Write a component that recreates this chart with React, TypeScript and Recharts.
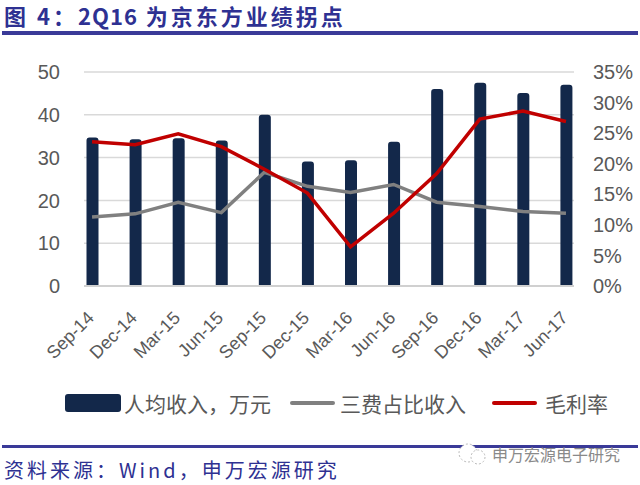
import React from "react";
import {
  ComposedChart,
  Bar,
  Line,
  XAxis,
  YAxis,
  CartesianGrid,
} from "recharts";

const quarters = [
  "Sep-14", "Dec-14", "Mar-15", "Jun-15", "Sep-15", "Dec-15",
  "Mar-16", "Jun-16", "Sep-16", "Dec-16", "Mar-17", "Jun-17",
];
// 人均收入，万元
const revenuePerHead = [34.7, 34.3, 34.5, 34.0, 40.0, 29.1, 29.4, 33.7, 46.0, 47.5, 45.1, 47.0];
// 三费占比收入 (%)
const expenseRatio = [11.3, 11.8, 13.7, 12.0, 18.6, 16.3, 15.3, 16.6, 13.7, 13.0, 12.2, 11.9];
// 毛利率 (%)
const grossMargin = [23.6, 23.1, 24.9, 22.8, 19.1, 15.2, 6.4, 11.9, 18.4, 27.3, 28.6, 26.9];

const leftTicks = [0, 10, 20, 30, 40, 50];
const rightTicks = [0, 5, 10, 15, 20, 25, 30, 35];

const data = quarters.map((q, i) => ({
  q,
  revenue: revenuePerHead[i],
  expense: expenseRatio[i],
  margin: grossMargin[i],
}));

const NAVY = "#13284A";
const GREY = "#808080";
const RED = "#C00000";
const TEXT = "#595959";
const TITLE = "#2E3192";
const RULE = "#3A3A98";
const SANS = "'Liberation Sans', Arial, sans-serif";
const CJK = "'Noto Sans CJK SC', sans-serif";

const XTick = (props: any) => {
  const { x, y, payload } = props;
  const ax = x + 3;
  const ay = y + 25;
  return (
    <text
      x={ax}
      y={ay}
      textAnchor="end"
      fill={TEXT}
      fontSize={18}
      fontFamily={SANS}
      transform={`rotate(-45, ${ax}, ${ay})`}
    >
      {payload.value}
    </text>
  );
};

export default function App() {
  return (
    <div
      style={{
        position: "absolute",
        left: 0,
        top: 0,
        width: 640,
        height: 485,
        background: "#fff",
        overflow: "hidden",
      }}
    >
      <ComposedChart
        width={640}
        height={485}
        data={data}
        margin={{ top: 72, right: 0, left: 0, bottom: 100 }}
        style={{ position: "absolute", left: 0, top: 0 }}
      >
        <CartesianGrid vertical={false} stroke="#D9D9D9" strokeWidth={1.5} yAxisId="left" />
        <XAxis
          dataKey="q"
          height={99}
          interval={0}
          padding={{ left: -13.5, right: -13.5 }}
          tick={<XTick />}
          tickLine={false}
          axisLine={{ stroke: "#D0D0D0", strokeWidth: 2 }}
        />
        <YAxis
          yAxisId="left"
          width={84}
          domain={[0, 50]}
          ticks={leftTicks}
          axisLine={false}
          tickLine={false}
          tickMargin={18}
          tick={{ fill: TEXT, fontSize: 20, fontFamily: SANS }}
        />
        <YAxis
          yAxisId="right"
          orientation="right"
          width={66}
          domain={[0, 35]}
          ticks={rightTicks}
          axisLine={false}
          tickLine={false}
          tickMargin={13}
          tickFormatter={(v: number) => `${v}%`}
          tick={{ fill: TEXT, fontSize: 20, fontFamily: SANS, textAnchor: "start" }}
        />
        <Bar
          yAxisId="left"
          dataKey="revenue"
          fill={NAVY}
          barSize={12}
          radius={[3, 3, 0, 0]}
          isAnimationActive={false}
        />
        <Line
          yAxisId="right"
          dataKey="expense"
          stroke={GREY}
          strokeWidth={3.5}
          dot={false}
          type="linear"
          isAnimationActive={false}
        />
        <Line
          yAxisId="right"
          dataKey="margin"
          stroke={RED}
          strokeWidth={3.5}
          dot={false}
          type="linear"
          isAnimationActive={false}
        />
      </ComposedChart>

      <div
        style={{
          position: "absolute",
          left: 4,
          top: 0,
          fontFamily: CJK,
          fontWeight: 700,
          fontSize: 22,
          lineHeight: "30px",
          letterSpacing: 3,
          color: TITLE,
          whiteSpace: "nowrap",
        }}
      >
        图 4：<span style={{ letterSpacing: 1 }}>2Q16</span> 为京东方业绩拐点
      </div>
      <div style={{ position: "absolute", left: 2, top: 31, width: 636, height: 4, background: RULE }} />

      <div
        style={{
          position: "absolute",
          left: 0,
          top: 388,
          width: 640,
          height: 30,
          fontFamily: CJK,
          fontSize: 21,
          color: TEXT,
        }}
      >
        <div style={{ position: "absolute", left: 65, top: 6, width: 56, height: 18, background: NAVY, borderRadius: 3 }} />
        <div style={{ position: "absolute", left: 124, top: 0, lineHeight: "30px", whiteSpace: "nowrap" }}>人均收入，万元</div>
        <div style={{ position: "absolute", left: 290, top: 13, width: 45, height: 4, background: GREY, borderRadius: 2 }} />
        <div style={{ position: "absolute", left: 340, top: 0, lineHeight: "30px", whiteSpace: "nowrap" }}>三费占比收入</div>
        <div style={{ position: "absolute", left: 492, top: 13, width: 45, height: 4, background: RED, borderRadius: 2 }} />
        <div style={{ position: "absolute", left: 545, top: 0, lineHeight: "30px", whiteSpace: "nowrap" }}>毛利率</div>
      </div>

      <div style={{ position: "absolute", left: 2, top: 445, width: 636, height: 3, background: RULE }} />
      <svg style={{ position: "absolute", left: 456, top: 441 }} width={34} height={26}>
        <circle cx={12} cy={12} r={9} fill="#fff" stroke="#bbb" strokeWidth={1} strokeDasharray="2 2" />
        <circle cx={22} cy={16} r={7} fill="#fff" stroke="#bbb" strokeWidth={1} strokeDasharray="2 2" />
      </svg>
      <div
        style={{
          position: "absolute",
          left: 492,
          top: 443,
          fontFamily: CJK,
          fontSize: 16,
          lineHeight: "22px",
          color: "#8a8a8a",
          whiteSpace: "nowrap",
        }}
      >
        申万宏源电子研究
      </div>
      <div
        style={{
          position: "absolute",
          left: 4,
          top: 457,
          fontFamily: CJK,
          fontSize: 20,
          lineHeight: "26px",
          letterSpacing: 3,
          color: TITLE,
          whiteSpace: "nowrap",
        }}
      >
        资料来源：Wind，申万宏源研究
      </div>
    </div>
  );
}
